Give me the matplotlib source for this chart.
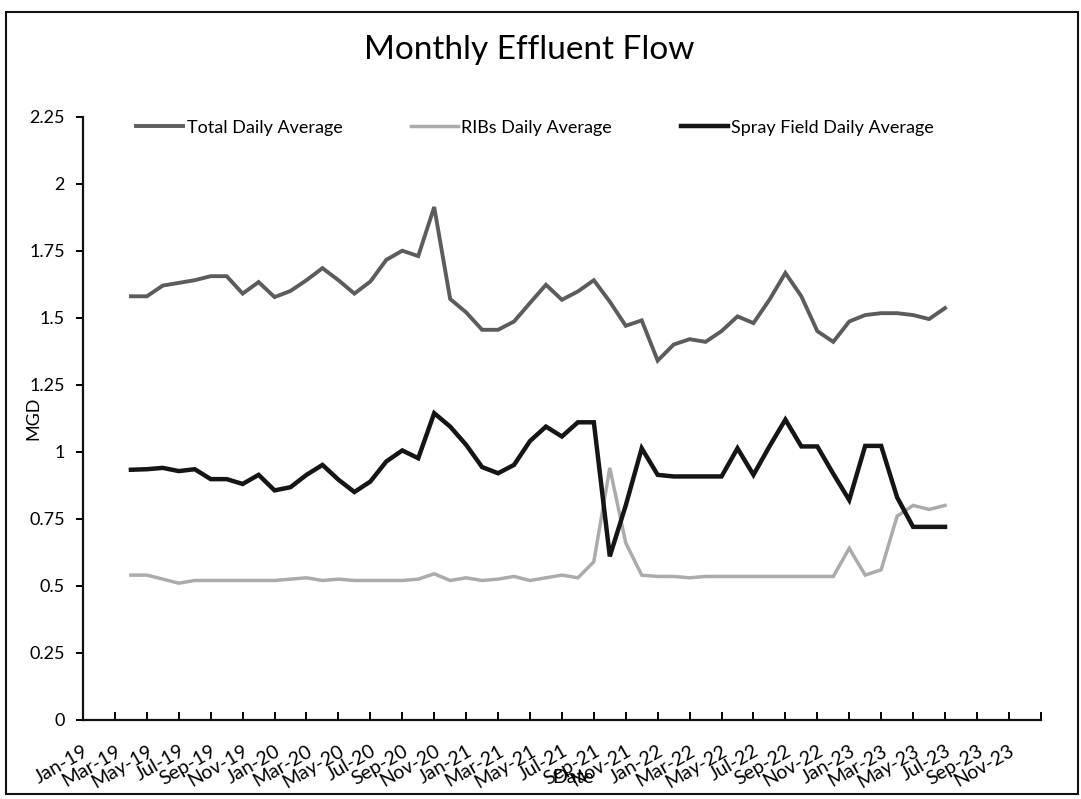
import numpy as np
import matplotlib
matplotlib.use('Agg')
import matplotlib.pyplot as plt
from matplotlib.patches import Rectangle

plt.rcParams['font.family'] = ['Lato', 'DejaVu Sans']

# month labels on the axis, every second month from Jan-19
tick_labels = ['Jan-19', 'Mar-19', 'May-19', 'Jul-19', 'Sep-19', 'Nov-19',
               'Jan-20', 'Mar-20', 'May-20', 'Jul-20', 'Sep-20', 'Nov-20',
               'Jan-21', 'Mar-21', 'May-21', 'Jul-21', 'Sep-21', 'Nov-21',
               'Jan-22', 'Mar-22', 'May-22', 'Jul-22', 'Sep-22', 'Nov-22',
               'Jan-23', 'Mar-23', 'May-23', 'Jul-23', 'Sep-23', 'Nov-23', '']

# monthly values, Apr-19 .. Jul-23 (MGD)
first_month = 3  # months after Jan-19
total = [1.58, 1.58, 1.62, 1.63, 1.64, 1.655, 1.655, 1.59, 1.633, 1.577,
         1.60, 1.64, 1.685, 1.64, 1.59, 1.635, 1.716, 1.75, 1.73, 1.913,
         1.57, 1.52, 1.455, 1.455, 1.486, 1.555, 1.623, 1.567, 1.598, 1.64,
         1.56, 1.47, 1.49, 1.34, 1.40, 1.42, 1.41, 1.45, 1.505, 1.48,
         1.567, 1.667, 1.58, 1.45, 1.41, 1.486, 1.51, 1.517, 1.517, 1.51,
         1.495, 1.536]
ribs = [0.54, 0.54, 0.525, 0.51, 0.52, 0.52, 0.52, 0.52, 0.52, 0.52,
        0.525, 0.53, 0.52, 0.525, 0.52, 0.52, 0.52, 0.52, 0.525, 0.545,
        0.52, 0.53, 0.52, 0.525, 0.535, 0.52, 0.53, 0.54, 0.53, 0.59,
        0.94, 0.66, 0.54, 0.535, 0.535, 0.53, 0.535, 0.535, 0.535, 0.535,
        0.535, 0.535, 0.535, 0.535, 0.535, 0.64, 0.54, 0.56, 0.76, 0.80,
        0.785, 0.80]
spray = [0.933, 0.935, 0.94, 0.928, 0.935, 0.898, 0.898, 0.88, 0.914, 0.856,
         0.868, 0.914, 0.951, 0.896, 0.85, 0.889, 0.964, 1.005, 0.976, 1.144,
         1.094, 1.026, 0.943, 0.92, 0.951, 1.04, 1.094, 1.057, 1.11, 1.11,
         0.61, 0.80, 1.013, 0.914, 0.908, 0.908, 0.908, 0.908, 1.013, 0.914,
         1.02, 1.12, 1.02, 1.02, 0.918, 0.82, 1.022, 1.022, 0.83, 0.72,
         0.72, 0.72]

months = np.arange(len(total)) + first_month

fig = plt.figure(figsize=(10.81, 7.99), dpi=100)
ax = fig.add_axes([0.0768, 0.099, 0.886, 0.755])

p = []
p.append(ax.plot(months, total, color='#5c5c5c', lw=2.8, solid_joinstyle='miter'))
p.append(ax.plot(months, ribs, color='#ababab', lw=2.5, solid_joinstyle='miter'))
p.append(ax.plot(months, spray, color='#151515', lw=3.2, solid_joinstyle='miter'))

# --- axes --- #
ax.set_xlim(0, 60)
ax.set_ylim(0, 2.25)
ax.set_yticks([0, 0.25, 0.5, 0.75, 1, 1.25, 1.5, 1.75, 2, 2.25])
ax.set_yticklabels(['0', '0.25', '0.5', '0.75', '1', '1.25', '1.5', '1.75', '2', '2.25'])
ax.set_xticks(np.arange(0, 61, 2))
ax.set_xticklabels(tick_labels, rotation=30, ha='right', rotation_mode='anchor')

ax.spines['top'].set_visible(False)
ax.spines['right'].set_visible(False)
for s in ['left', 'bottom']:
    ax.spines[s].set_linewidth(1.6)
    ax.spines[s].set_color('#111111')

ax.tick_params(axis='y', direction='out', length=5, width=1.4, labelsize=13, pad=8)
ax.tick_params(axis='x', direction='in', length=6, width=1.4, labelsize=14, pad=16)

ax.set_ylabel('MGD', fontsize=13, labelpad=-9)
fig.text(0.53, 0.016, 'Date', fontsize=14, ha='center', va='bottom')

fig.text(0.49, 0.938, 'Monthly Effluent Flow', fontsize=24, ha='center', va='center')

ax.legend((p[0][0], p[1][0], p[2][0]),
          ('Total Daily Average', 'RIBs Daily Average', 'Spray Field Daily Average'),
          loc='upper center', bbox_to_anchor=(0.472, 1.022), ncol=3, frameon=False,
          fontsize=13, handlelength=2.6, handletextpad=0.2, columnspacing=3.8)

# chart border
fig.patches.append(Rectangle((0.006, 0.006), 0.991, 0.979, transform=fig.transFigure,
                             fill=False, lw=1.5, ec='#111111'))

fig.savefig('out.png', dpi=100)
